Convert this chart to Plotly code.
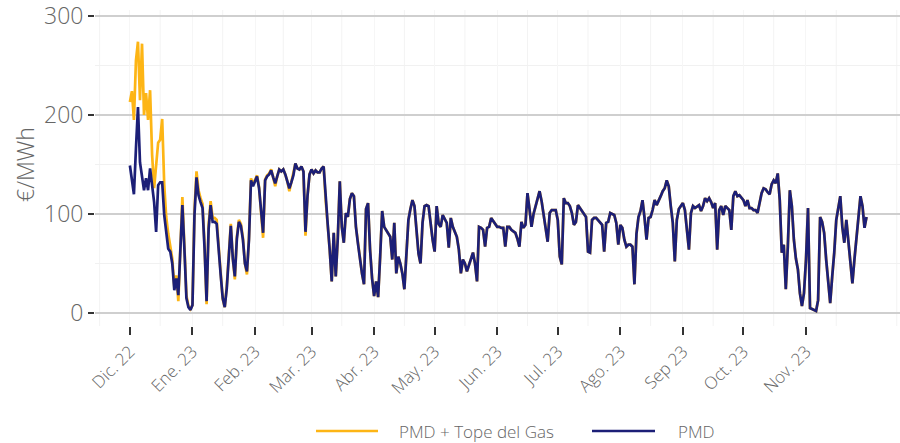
import pandas as pd
import plotly.graph_objects as go

# Daily PMD (€/MWh), Dec 1 2022 - Dec 1 2023
pmd_dic22 = [149, 132, 120, 166, 208, 152, 139, 124, 136, 124, 146, 130, 112, 82, 129, 132,
             132, 99, 80, 65, 62, 50, 23, 35, 18, 65, 109, 65, 15, 6, 3]
pmd_ene23 = [8, 99, 137, 119, 112, 106, 65, 12, 85, 109, 92, 92, 90, 60, 38, 15, 6, 25, 55,
             88, 55, 37, 75, 92, 88, 74, 50, 42, 74, 134, 128]
pmd_feb23 = [134, 138, 126, 100, 81, 134, 138, 140, 144, 137, 131, 138, 145, 143, 145, 140,
             133, 126, 132, 139, 151, 146, 145, 148, 143, 82, 118, 140]
pmd_mar23 = [145, 141, 144, 142, 142, 146, 148, 114, 90, 64, 32, 81, 37, 75, 133, 87, 71,
             101, 97, 115, 121, 118, 87, 70, 54, 40, 29, 105, 111, 64, 35]
pmd_abr23 = [17, 32, 16, 57, 103, 87, 84, 80, 77, 54, 91, 40, 57, 50, 40, 24, 61, 94, 105,
             114, 108, 81, 60, 50, 91, 108, 109, 108, 90, 74]
pmd_may23 = [62, 108, 90, 87, 99, 94, 91, 66, 96, 87, 82, 77, 64, 40, 54, 50, 42, 49, 54, 61,
             50, 32, 87, 86, 84, 67, 86, 87, 96, 93, 91]
pmd_jun23 = [87, 87, 86, 86, 67, 87, 87, 84, 82, 81, 75, 67, 92, 86, 89, 121, 105, 87, 100,
             108, 114, 123, 113, 100, 85, 72, 101, 104, 104, 104]
pmd_jul23 = [94, 57, 49, 116, 111, 111, 108, 101, 89, 92, 109, 106, 103, 100, 97, 62, 61, 94,
             96, 96, 94, 92, 89, 62, 91, 92, 101, 100, 99, 91, 69]
pmd_ago23 = [89, 86, 74, 67, 69, 69, 67, 29, 80, 97, 103, 114, 96, 74, 96, 97, 104, 114, 109,
             113, 118, 123, 126, 134, 128, 108, 91, 52, 94, 105, 108]
pmd_sep23 = [111, 104, 80, 64, 101, 108, 106, 108, 109, 103, 108, 116, 113, 116, 112, 106, 111,
             64, 104, 108, 99, 108, 106, 104, 84, 118, 123, 118, 119, 116]
pmd_oct23 = [114, 108, 114, 106, 106, 104, 104, 101, 110, 121, 126, 125, 122, 120, 130, 134,
             131, 141, 114, 61, 69, 24, 67, 124, 108, 74, 55, 44, 20, 7, 20]
pmd_nov23 = [54, 106, 5, 4, 3, 2, 13, 97, 92, 81, 54, 30, 10, 37, 61, 94, 108, 118, 87, 71, 94,
             70, 50, 30, 54, 75, 100, 118, 108, 86]
pmd_dic23 = [97]

# PMD + Tope del Gas (differs from PMD only Dec 2022 - Feb 2023)
tope_dic22 = [213, 224, 195, 255, 274, 215, 272, 200, 222, 195, 225, 160, 126, 150, 172, 175,
              196, 130, 97, 80, 68, 55, 27, 38, 12, 70, 117, 68, 18, 7, 4]
tope_ene23 = [8, 104, 143, 124, 116, 110, 68, 9, 89, 113, 96, 96, 94, 63, 40, 14, 6, 27, 58,
              90, 55, 34, 77, 94, 90, 76, 50, 39, 76, 136, 130]
tope_feb23 = [135, 139, 127, 101, 76, 135, 139, 141, 145, 137, 128, 138, 145, 143, 145, 140,
              133, 123, 132, 139, 151, 146, 145, 148, 143, 78, 118, 140]

month_ticks = ["2022-12-01", "2023-01-01", "2023-02-01", "2023-03-01", "2023-04-01",
               "2023-05-01", "2023-06-01", "2023-07-01", "2023-08-01", "2023-09-01",
               "2023-10-01", "2023-11-01"]
month_labels = ["Dic. 22", "Ene. 23", "Feb. 23", "Mar. 23", "Abr. 23", "May. 23", "Jun. 23",
                "Jul. 23", "Ago. 23", "Sep 23", "Oct. 23", "Nov. 23"]
mid_ticks = ["2022-11-16", "2022-12-16", "2023-01-16", "2023-02-15", "2023-03-16",
             "2023-04-16", "2023-05-16", "2023-06-16", "2023-07-16", "2023-08-16",
             "2023-09-16", "2023-10-16", "2023-11-16", "2023-12-16"]
y_ticks = [0, 100, 200, 300]
series_names = ["PMD + Tope del Gas", "PMD"]

pmd = (pmd_dic22 + pmd_ene23 + pmd_feb23 + pmd_mar23 + pmd_abr23 + pmd_may23 + pmd_jun23 +
       pmd_jul23 + pmd_ago23 + pmd_sep23 + pmd_oct23 + pmd_nov23 + pmd_dic23)
n_cap = len(tope_dic22) + len(tope_ene23) + len(tope_feb23)
tope = tope_dic22 + tope_ene23 + tope_feb23 + pmd[n_cap:]
dates = pd.date_range("2022-12-01", periods=len(pmd), freq="D")

ORANGE = "#FDB515"
NAVY = "#1C1F77"
FONT = "Open Sans"
GREY = "#666666"

# body margin is removed by the post script, so the figure sits at (0, 0)
W, H = 900, 443
ML, MR, MT, MB = 95, 0, 10, 117
PW, PH = W - ML - MR, H - MT - MB


def px(xw):  # window x -> paper x
    return (xw - ML) / PW


def py(yw):  # window y -> paper y
    return (H - MB - yw) / PH


fig = go.Figure()
fig.add_trace(go.Scatter(x=dates, y=tope, mode="lines", name=series_names[0],
                         line=dict(color=ORANGE, width=2.7), showlegend=False))
fig.add_trace(go.Scatter(x=dates, y=pmd, mode="lines", name=series_names[1],
                         line=dict(color=NAVY, width=2.7), showlegend=False))

# faint vertical minor grid lines
for d in mid_ticks:
    fig.add_vline(x=d, line=dict(color="#f3f3f3", width=1), layer="below")

# manual legend
leg_y = py(431)
for (x0, x1, tx, col, name) in [(316, 378, 397, ORANGE, series_names[0]),
                                (592, 655, 676, NAVY, series_names[1])]:
    fig.add_shape(type="line", xref="paper", yref="paper", x0=px(x0), x1=px(x1),
                  y0=leg_y, y1=leg_y, line=dict(color=col, width=2.7))
    fig.add_annotation(xref="paper", yref="paper", x=px(tx), y=leg_y, text=name,
                       showarrow=False, xanchor="left", yanchor="middle",
                       font=dict(size=17, color=GREY, family=FONT, weight=300))

# y-axis title
fig.add_annotation(xref="paper", yref="paper", x=px(25), y=py(165), text="€/MWh",
                   textangle=-90, showarrow=False, xanchor="center", yanchor="middle",
                   font=dict(size=23, color=GREY, family=FONT, weight=300))

fig.update_layout(
    width=W, height=H,
    margin=dict(l=ML, r=MR, t=MT, b=MB),
    plot_bgcolor="white", paper_bgcolor="white",
    font=dict(family=FONT, color=GREY),
    showlegend=False,
)
fig.update_xaxes(
    type="date", automargin=False,
    range=["2022-11-13 17:00", "2023-12-17 14:00"],
    tickvals=month_ticks, ticktext=month_labels,
    tickangle=-45,
    tickfont=dict(size=17, color=GREY, family=FONT, weight=300),
    ticks="outside", ticklen=8, tickwidth=2, tickcolor="#333333",
    showgrid=True, gridcolor="#f6f6f6", gridwidth=1,
    showline=False, zeroline=False,
)
fig.update_yaxes(
    automargin=False,
    range=[-13.1, 306],
    tickvals=y_ticks,
    tickfont=dict(size=23, color=GREY, family=FONT, weight=300),
    ticklabeloverflow="allow",
    ticks="outside", ticklen=6, tickwidth=2, tickcolor="#333333",
    showgrid=True, gridcolor="#cfcfcf", gridwidth=1.5,
    minor=dict(tickvals=[50, 150, 250], showgrid=True, gridcolor="#f1f1f1", gridwidth=1, ticks=""),
    zeroline=False, showline=False,
)

fig.write_html("out.html",
               config={"displayModeBar": False},
               post_script="document.body.style.margin='0';document.body.style.padding='0';")
